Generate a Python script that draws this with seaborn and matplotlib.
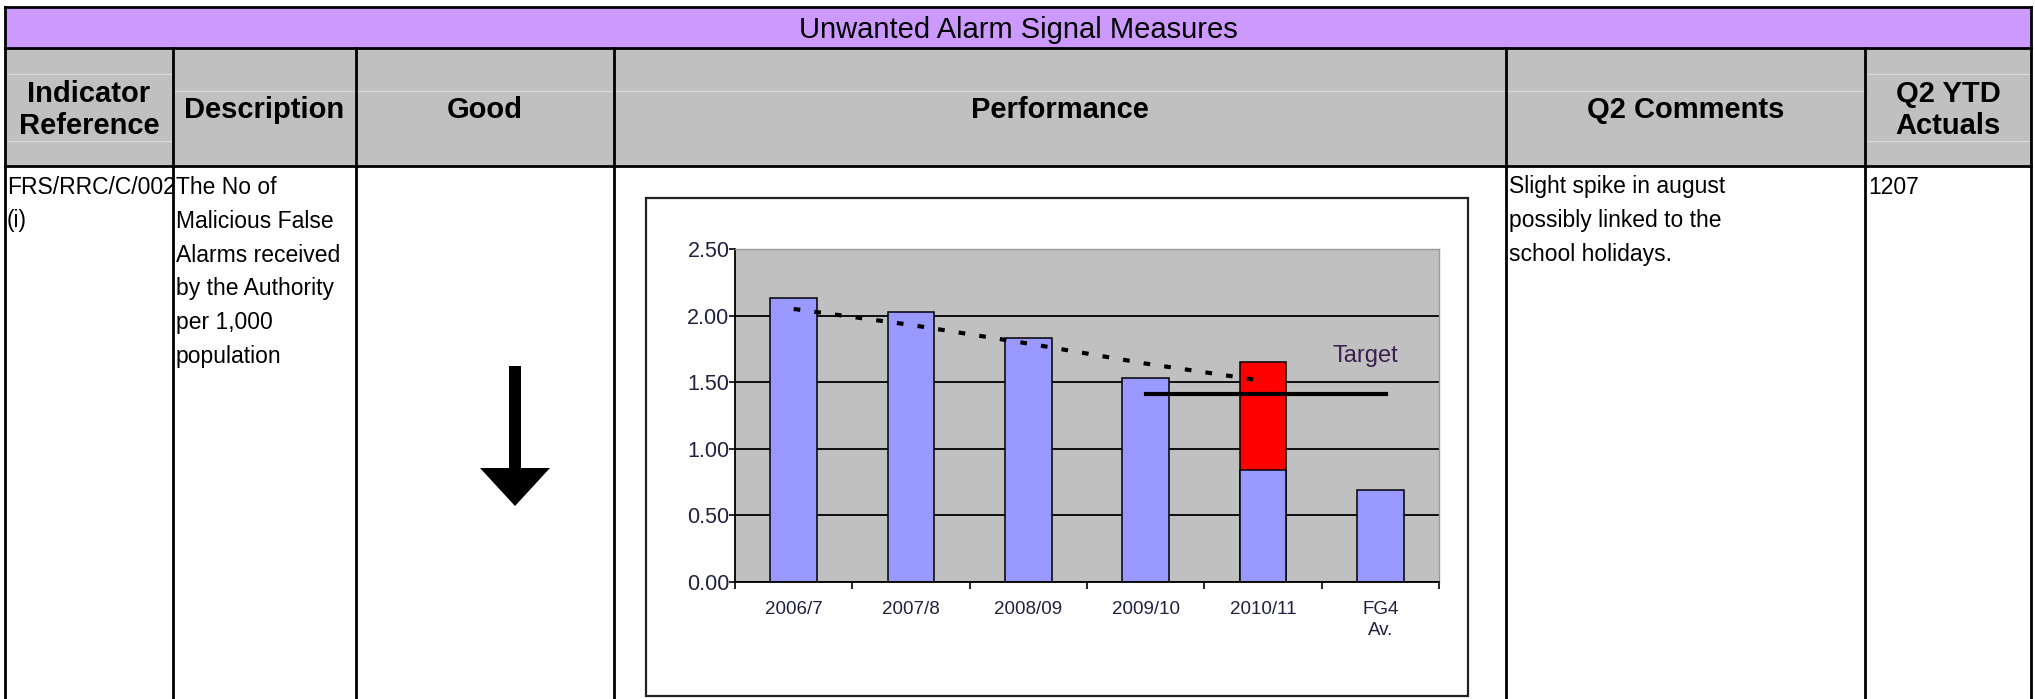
import matplotlib
matplotlib.use("Agg")
import matplotlib.pyplot as plt
from matplotlib import font_manager
from matplotlib.patches import Rectangle
from matplotlib.ticker import FixedLocator, FormatStrFormatter
import seaborn as sns
import pandas as pd

# ---- chart values ----
periods = ["2006/7", "2007/8", "2008/09", "2009/10", "2010/11", "FG4\nAv."]
actual = [2.13, 2.03, 1.83, 1.53, 0.84, 0.69]
projected = [None, None, None, None, 1.65, None]   # red part on top of 2010/11
trend = [2.05, 1.93, 1.79, 1.64, 1.51]              # dotted trend, 2006/7 .. 2010/11
target = 1.41
y_ticks = [0.0, 0.5, 1.0, 1.5, 2.0, 2.5]

# ---- table text ----
title = "Unwanted Alarm Signal Measures"
headers = [["Indicator", "Reference"], ["Description"], ["Good"],
           ["Performance"], ["Q2 Comments"], ["Q2 YTD", "Actuals"]]
ref_lines = ["FRS/RRC/C/002", "(i)"]
desc_lines = ["The No of", "Malicious False", "Alarms received",
              "by the Authority", "per 1,000", "population"]
comment_lines = ["Slight spike in august", "possibly linked to the", "school holidays."]
ytd_actual = "1207"

plt.rcParams["font.family"] = ["Liberation Sans", "DejaVu Sans"]

# body text of the table looks a bit condensed
installed = {f.name for f in font_manager.fontManager.ttflist}
if "Liberation Sans Narrow" in installed:
    body_font = dict(family=["Liberation Sans Narrow", "DejaVu Sans"], fontsize=19.5)
else:
    body_font = dict(family=["Liberation Sans", "DejaVu Sans"], fontsize=16.5)

W, H = 2035, 699
fig = plt.figure(figsize=(W / 100, H / 100), dpi=100)
fig.patch.set_facecolor("white")

# background axes in pixel coordinates for the table
bg = fig.add_axes([0, 0, 1, 1])
bg.set_xlim(0, W)
bg.set_ylim(H, 0)
bg.axis("off")

cols = [5, 173, 356, 614, 1506, 1865, 2031]
top, band, head = 7, 48, 166

bg.add_patch(Rectangle((cols[0], top), cols[-1] - cols[0], band - top, color="#cc99ff", lw=0))
bg.add_patch(Rectangle((cols[0], band), cols[-1] - cols[0], head - band, color="#c0c0c0", lw=0))

# faint inner lines of the header cells
for i in range(len(cols) - 1):
    ys = [74, 141] if i in (0, 5) else [91]
    for yy in ys:
        bg.plot([cols[i] + 2, cols[i + 1] - 2], [yy, yy], color="#d9d9d9", lw=0.8)

lw = 2.0
for yy in (top, band, head):
    bg.plot([cols[0], cols[-1]], [yy, yy], color="black", lw=lw, solid_capstyle="projecting")
bg.plot([cols[0], cols[0]], [top, H + 5], color="black", lw=lw)
bg.plot([cols[-1], cols[-1]], [top, H + 5], color="black", lw=lw)
for xx in cols[1:-1]:
    bg.plot([xx, xx], [band, H + 5], color="black", lw=lw)

bg.text((cols[0] + cols[-1]) / 2, 38, title, ha="center", va="baseline", fontsize=21)

for i, lines in enumerate(headers):
    cx = (cols[i] + cols[i + 1]) / 2
    ys = [92, 123] if len(lines) == 2 else [107]
    for yy, s in zip(ys, lines):
        bg.text(cx, yy + 10.5, s, ha="center", va="baseline", fontsize=21, fontweight="bold")

step = 34
base0 = 184 + 9.5
for k, s in enumerate(ref_lines):
    bg.text(cols[0] + 2, base0 + k * step, s, ha="left", va="baseline", **body_font)
for k, s in enumerate(desc_lines):
    bg.text(cols[1] + 3, base0 + k * step, s, ha="left", va="baseline", **body_font)
for k, s in enumerate(comment_lines):
    bg.text(cols[4] + 3, base0 + k * step, s, ha="left", va="baseline", **body_font)
bg.text(cols[5] + 3, base0, ytd_actual, ha="left", va="baseline", **body_font)

# "Good" direction arrow
bg.fill([509, 521, 521, 550, 515, 480, 509, 509],
        [366, 366, 468, 468, 506, 468, 468, 366], color="black", lw=0)

# white chart frame
bg.add_patch(Rectangle((646, 198), 1468 - 646, 696 - 198, facecolor="white",
                       edgecolor="#222222", lw=1.6))

# ---- embedded bar chart ----
ax = fig.add_axes([735 / W, (H - 582) / H, (1439 - 735) / W, (582 - 249) / H])
ax.set_facecolor("#c0c0c0")
ax.set_axisbelow(True)

df = pd.DataFrame({"period": periods, "actual": actual,
                   "projected": [float("nan") if v is None else v for v in projected]})

sns.barplot(data=df, x="period", y="projected", color="#ff0000", saturation=1,
            edgecolor="black", linewidth=1.1, width=0.4, ax=ax)
sns.barplot(data=df, x="period", y="actual", color="#9999ff", saturation=1,
            edgecolor="black", linewidth=1.1, width=0.4, ax=ax)

sns.lineplot(x=list(range(len(trend))), y=trend, ax=ax, color="black", lw=3,
             linestyle=(0, (1.6, 3.4)), zorder=5)
t0 = periods.index("2009/10")
t1 = periods.index("FG4\nAv.") + 0.05
sns.lineplot(x=[t0, t1], y=[target, target], ax=ax, color="black", lw=3, zorder=5)
ax.text((t0 + t1) / 2 + 0.85, target + 0.29, "Target", ha="center", va="center",
        fontsize=17, color="#3a2050")

ax.set_xlim(-0.5, len(periods) - 0.5)
ax.set_ylim(y_ticks[0], y_ticks[-1])
ax.set_xlabel("")
ax.set_ylabel("")

ax.set_yticks(y_ticks)
ax.yaxis.set_major_formatter(FormatStrFormatter("%.2f"))
ax.yaxis.grid(True, color="black", lw=1.3)
for gl in ax.get_ygridlines()[-1:]:
    gl.set_visible(False)
ax.tick_params(axis="y", length=4, width=1.2, pad=0, labelsize=15.5, labelcolor="#202040", color="black")

ax.set_xticks(range(len(periods)))
ax.set_xticklabels(periods)
ax.xaxis.set_minor_locator(FixedLocator([i - 0.5 for i in range(len(periods) + 1)]))
ax.tick_params(axis="x", which="major", length=0, pad=13.5, labelsize=13.5, labelcolor="#202040")
ax.tick_params(axis="x", which="minor", length=5, width=1.2, color="black")
for lab in ax.get_xticklabels():
    lab.set_linespacing(1.3)

for side in ("left", "bottom"):
    ax.spines[side].set_color("black")
    ax.spines[side].set_linewidth(1.3)
for side in ("top", "right"):
    ax.spines[side].set_color("#9a9a9a")
    ax.spines[side].set_linewidth(1.0)

fig.savefig("out.png", dpi=100)
